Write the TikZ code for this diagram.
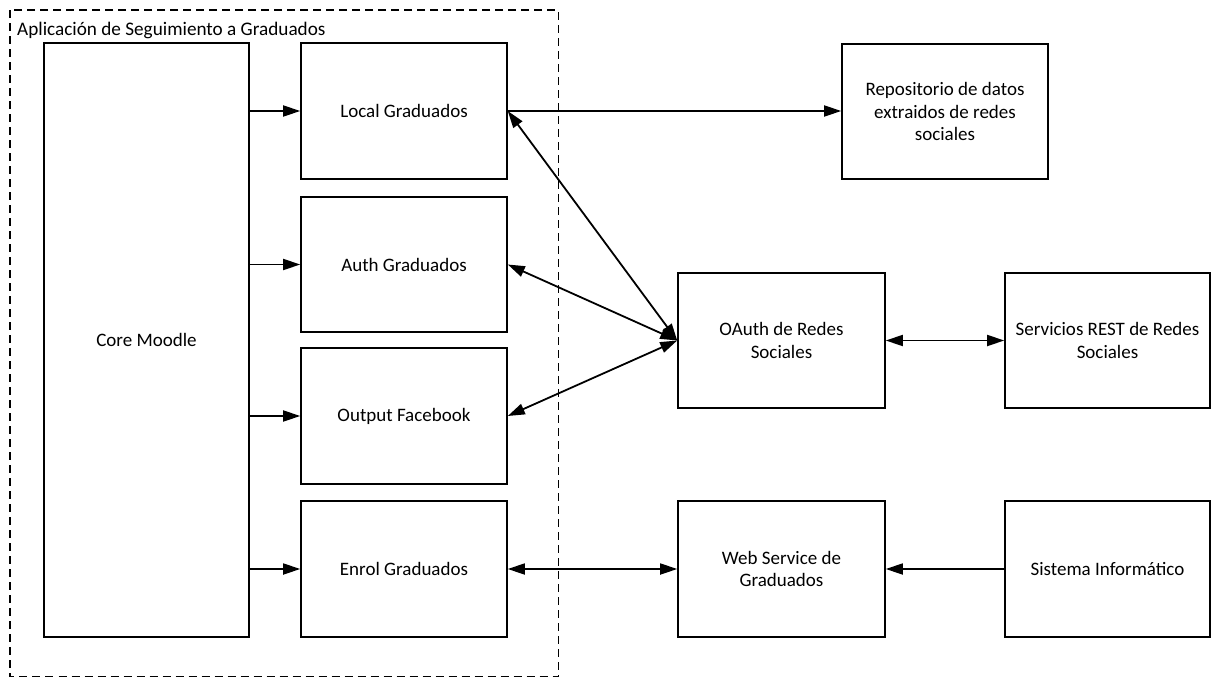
\documentclass[tikz,border=0pt]{standalone}
\usepackage{fontspec}
\setmainfont{Carlito}
\usetikzlibrary{arrows.meta}
\begin{document}
\begin{tikzpicture}[x=1pt,y=-1pt,
  box/.style={draw=black,line width=1.6pt,fill=white,align=center,inner sep=2pt,
    font=\fontsize{19}{22.7}\selectfont},
  conn/.style={line width=1.8pt,-{Triangle[length=17pt,width=11pt]}},
  conn2/.style={line width=1.8pt,{Triangle[length=17pt,width=11pt]}-{Triangle[length=17pt,width=11pt]}},
  frame/.style={draw=black,line width=1.3pt,dash pattern=on 8pt off 5pt}]
\useasboundingbox (0,0) rectangle (1211,678);
% frame
\draw[frame] (10,10) rectangle (558.5,676.5);
\node[anchor=base west,inner sep=0pt,font=\fontsize{19.2}{22}\selectfont] (lbl) at (17,35) {Aplicación de Seguimiento a Graduados};
% boxes
\node[box,minimum width=205pt,minimum height=594pt] (core) at (146.5,340) {Core Moodle};
\node[box,minimum width=206pt,minimum height=136pt] (local) at (404,111) {Local Graduados};
\node[box,minimum width=206pt,minimum height=135pt] (auth) at (404,264.5) {Auth Graduados};
\node[box,minimum width=206pt,minimum height=136pt] (output) at (404,416) {Output Facebook};
\node[box,minimum width=206pt,minimum height=136pt] (enrol) at (404,569) {Enrol Graduados};
\node[box,minimum width=206pt,minimum height=135pt] (repo) at (945,111.5) {Repositorio de datos\\extraidos de redes\\sociales};
\node[box,minimum width=207pt,minimum height=135pt] (oauth) at (781.5,340.5) {OAuth de Redes\\Sociales};
\node[box,minimum width=205pt,minimum height=135pt] (rest) at (1107.5,340.5) {Servicios REST de Redes\\Sociales};
\node[box,minimum width=207pt,minimum height=136pt] (ws) at (781.5,569) {Web Service de\\Graduados};
\node[box,minimum width=205pt,minimum height=136pt] (sis) at (1107.5,569) {Sistema Informático};
% connectors
\draw[conn] (core.east |- local.west) -- (local.west);
\draw[conn] (core.east |- auth.west) -- (auth.west);
\draw[conn] (core.east |- output.west) -- (output.west);
\draw[conn] (core.east |- enrol.west) -- (enrol.west);
\draw[conn] (local.east) -- (local.east -| repo.west);
\draw[conn2] (local.east) -- (oauth.west);
\draw[conn2] (auth.east) -- (oauth.west);
\draw[conn2] (output.east) -- (oauth.west);
\draw[conn2] (oauth.east) -- (rest.west);
\draw[conn2] (enrol.east) -- (ws.west);
\draw[conn] (sis.west) -- (ws.east);
\end{tikzpicture}
\end{document}
